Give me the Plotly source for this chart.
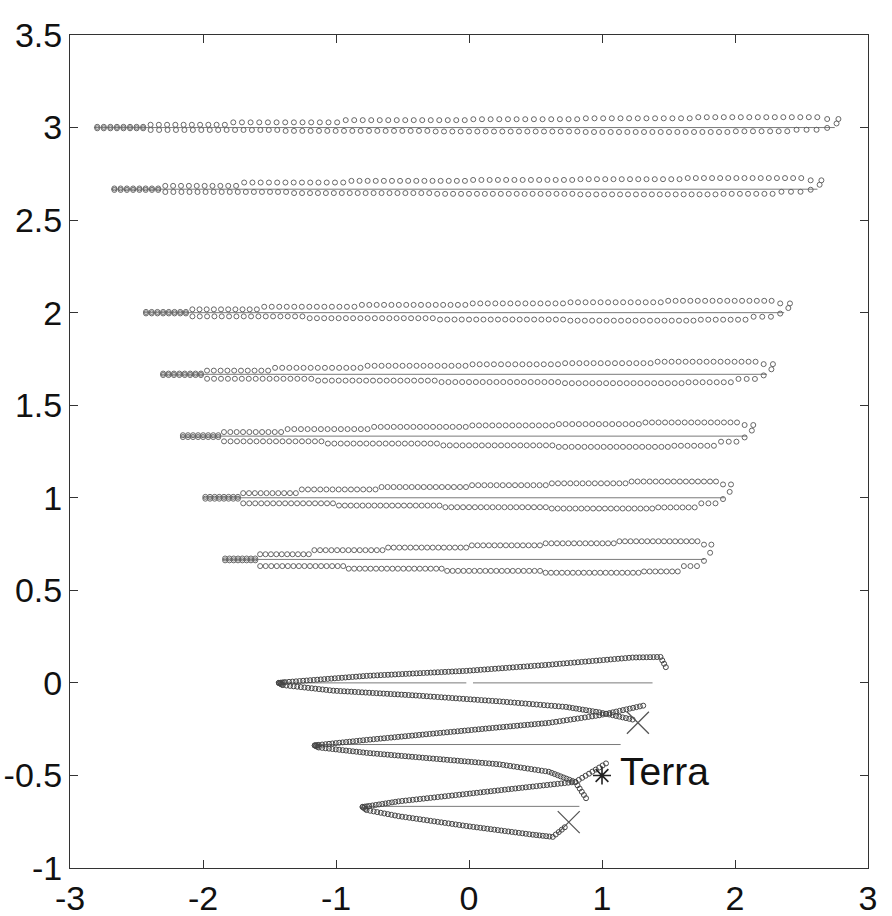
import plotly.graph_objects as go

# ---------------- data ----------------
# Upper (wide) bands: centre-line level and half width of each band
band_y = [3.0, 2.667, 2.0, 1.667, 1.333, 1.0, 0.667]
band_halfwidth = [2.82, 2.69, 2.45, 2.32, 2.17, 2.0, 1.85]
band_line_end = [2.75, 2.62, 2.37, 2.24, 2.09, 1.92, 1.77]

# stair boundaries (fraction of band width) and number of circles per stair
upper_u = [0.0, 0.07, 0.18, 0.33, 0.5, 0.65, 0.8, 0.97, 1.0]
upper_n = [8, 10, 13, 15, 13, 13, 15, 2]
lower_u = [0.0, 0.07, 0.25, 0.45, 0.65, 0.85, 0.93, 0.97, 0.985, 0.995]
lower_n = [8, 16, 18, 18, 18, 7, 3, 1, 1]

# offset of each stair from the band centre line (upper row / lower row)
upper_dy = [
    [0.004, 0.015, 0.028, 0.040, 0.045, 0.050, 0.056, 0.046],
    [0.004, 0.018, 0.036, 0.045, 0.050, 0.054, 0.060, 0.048],
    [0.004, 0.018, 0.032, 0.042, 0.050, 0.056, 0.064, 0.050],
    [0.004, 0.020, 0.035, 0.046, 0.054, 0.060, 0.068, 0.055],
    [0.005, 0.022, 0.038, 0.050, 0.058, 0.065, 0.074, 0.060],
    [0.005, 0.025, 0.045, 0.058, 0.068, 0.078, 0.088, 0.072],
    [0.005, 0.028, 0.050, 0.064, 0.076, 0.087, 0.098, 0.080],
]
lower_dy = [
    [-0.004, -0.013, -0.018, -0.021, -0.024, -0.020, -0.012, -0.002, 0.022],
    [-0.004, -0.015, -0.021, -0.025, -0.028, -0.025, -0.014, -0.003, 0.024],
    [-0.004, -0.020, -0.030, -0.037, -0.043, -0.038, -0.022, -0.005, 0.025],
    [-0.004, -0.024, -0.034, -0.042, -0.048, -0.043, -0.025, -0.006, 0.027],
    [-0.005, -0.028, -0.040, -0.050, -0.058, -0.052, -0.030, -0.007, 0.030],
    [-0.005, -0.030, -0.042, -0.051, -0.058, -0.052, -0.030, -0.007, 0.032],
    [-0.005, -0.036, -0.050, -0.062, -0.072, -0.065, -0.036, -0.008, 0.036],
]

# Lower (converging) bands: vertices of the circle chains and circles per piece
H_upper_x = [-1.43, -1.38, -0.77, -0.02, 0.60, 1.23, 1.44, 1.48]
H_upper_y = [0.000, 0.004, 0.038, 0.065, 0.098, 0.137, 0.140, 0.085]
H_upper_n = [4, 23, 28, 23, 23, 8, 3]
H_lower_x = [-1.43, -1.40, -1.02, -0.40, 0.23, 0.73, 0.98, 1.23]
H_lower_y = [0.000, -0.012, -0.042, -0.068, -0.100, -0.130, -0.159, -0.198]
H_lower_n = [4, 14, 23, 23, 18, 10, 10]

I_upper_x = [1.31, 0.98, 0.60, 0.23, -0.27, -0.77, -1.13, -1.16]
I_upper_y = [-0.123, -0.175, -0.216, -0.240, -0.274, -0.308, -0.335, -0.338]
I_upper_n = [13, 14, 14, 19, 19, 14, 3]
I_lower_x = [-1.16, -1.13, -0.77, -0.27, 0.23, 0.60, 0.80, 0.88]
I_lower_y = [-0.338, -0.349, -0.378, -0.409, -0.440, -0.480, -0.536, -0.623]
I_lower_n = [3, 14, 19, 19, 14, 9, 5]

J_upper_x = [1.03, 0.80, 0.48, -0.02, -0.53, -0.75, -0.80]
J_upper_y = [-0.435, -0.535, -0.560, -0.600, -0.640, -0.665, -0.670]
J_upper_n = [9, 12, 19, 19, 9, 3]
J_lower_x = [-0.80, -0.77, -0.53, -0.02, 0.48, 0.63, 0.72]
J_lower_y = [-0.670, -0.687, -0.720, -0.773, -0.820, -0.832, -0.780]
J_lower_n = [3, 9, 19, 19, 6, 4]

# centre lines of the lower bands (x start, x end, y)
low_line_x0 = [-1.42, 0.03, -1.13, -0.78]
low_line_x1 = [-0.02, 1.38, 1.14, 0.83]
low_line_y = [0.0, 0.0, -0.333, -0.667]

# special markers
cross_x = [1.27, 0.75]
cross_y = [-0.215, -0.752]
earth_x = [1.0]
earth_y = [-0.50]
earth_label = "Terra"

x_ticks = [-3, -2, -1, 0, 1, 2, 3]
x_ticktext = ["-3", "-2", "-1", "0", "1", "2", "3"]
y_ticks = [-1, -0.5, 0, 0.5, 1, 1.5, 2, 2.5, 3, 3.5]
y_ticktext = ["-1", "-0.5", "0", "0.5", "1", "1.5", "2", "2.5", "3", "3.5"]


# ---------------- helpers ----------------
def stair_row(y0, a, u_breaks, counts, dys):
    xs, ys = [], []
    for u0, u1, n, dy in zip(u_breaks[:-1], u_breaks[1:], counts, dys):
        for k in range(n):
            u = u0 + (k + 0.5) * (u1 - u0) / n
            xs.append(-a + 2 * a * u)
            ys.append(y0 + dy)
    return xs, ys


def chain(vx, vy, counts):
    xs, ys = [], []
    for i, n in enumerate(counts):
        for k in range(n):
            t = k / n
            xs.append(vx[i] + (vx[i + 1] - vx[i]) * t)
            ys.append(vy[i] + (vy[i + 1] - vy[i]) * t)
    xs.append(vx[-1])
    ys.append(vy[-1])
    return xs, ys


fig = go.Figure()

line_style = dict(color="#7a7a7a", width=1)
up_marker = dict(symbol="circle-open", size=5, color="#666666", line=dict(width=1, color="#666666"))
low_marker = dict(symbol="circle-open", size=5, color="#454545", line=dict(width=1, color="#454545"))

# upper bands
for y0, a, le, udy, ldy in zip(band_y, band_halfwidth, band_line_end, upper_dy, lower_dy):
    fig.add_trace(go.Scatter(x=[-a, le], y=[y0, y0], mode="lines", line=line_style,
                             hoverinfo="skip"))
    ux, uy = stair_row(y0, a, upper_u, upper_n, udy)
    lx, ly = stair_row(y0, a, lower_u, lower_n, ldy)
    fig.add_trace(go.Scatter(x=ux, y=uy, mode="markers", marker=up_marker))
    fig.add_trace(go.Scatter(x=lx, y=ly, mode="markers", marker=up_marker))

# lower band centre lines
for x0, x1, yl in zip(low_line_x0, low_line_x1, low_line_y):
    fig.add_trace(go.Scatter(x=[x0, x1], y=[yl, yl], mode="lines", line=line_style,
                             hoverinfo="skip"))

# lower band chains
for vx, vy, vn in [
    (H_upper_x, H_upper_y, H_upper_n), (H_lower_x, H_lower_y, H_lower_n),
    (I_upper_x, I_upper_y, I_upper_n), (I_lower_x, I_lower_y, I_lower_n),
    (J_upper_x, J_upper_y, J_upper_n), (J_lower_x, J_lower_y, J_lower_n),
]:
    cx, cy = chain(vx, vy, vn)
    fig.add_trace(go.Scatter(x=cx, y=cy, mode="markers", marker=low_marker))

# crosses and Earth
fig.add_trace(go.Scatter(x=cross_x, y=cross_y, mode="markers",
                         marker=dict(symbol="x-thin-open", size=22, color="#555555",
                                     line=dict(width=1.3, color="#555555"))))
fig.add_trace(go.Scatter(x=earth_x, y=earth_y, mode="markers",
                         marker=dict(symbol="asterisk-open", size=15, color="#222222",
                                     line=dict(width=1.6, color="#222222"))))
fig.add_annotation(x=earth_x[0] + 0.12, y=earth_y[0] + 0.02, text=earth_label,
                   showarrow=False, xanchor="left", yanchor="middle",
                   font=dict(family="Liberation Sans, Arial, sans-serif", size=39, color="#111111"))

axis_font = dict(family="Liberation Sans, Arial, sans-serif", size=34, color="#111111")
common = dict(showline=True, linecolor="#333333", linewidth=1, mirror="ticks",
              ticks="inside", ticklen=8, tickwidth=1, tickcolor="#333333",
              showgrid=False, zeroline=False, tickfont=axis_font, automargin=False)

fig.update_xaxes(range=[-3, 3], tickvals=x_ticks, ticktext=x_ticktext, **common)
fig.update_yaxes(range=[-1, 3.5], tickvals=y_ticks, ticktext=y_ticktext, **common)

fig.update_layout(width=892, height=916, showlegend=False,
                  margin=dict(l=70, r=24, t=35, b=48),
                  plot_bgcolor="white", paper_bgcolor="white")

fig.write_html(
    "out.html",
    config={"displayModeBar": False},
    post_script="document.body.style.margin='0px';document.body.style.padding='0px';"
                "document.body.style.overflow='hidden';",
)
